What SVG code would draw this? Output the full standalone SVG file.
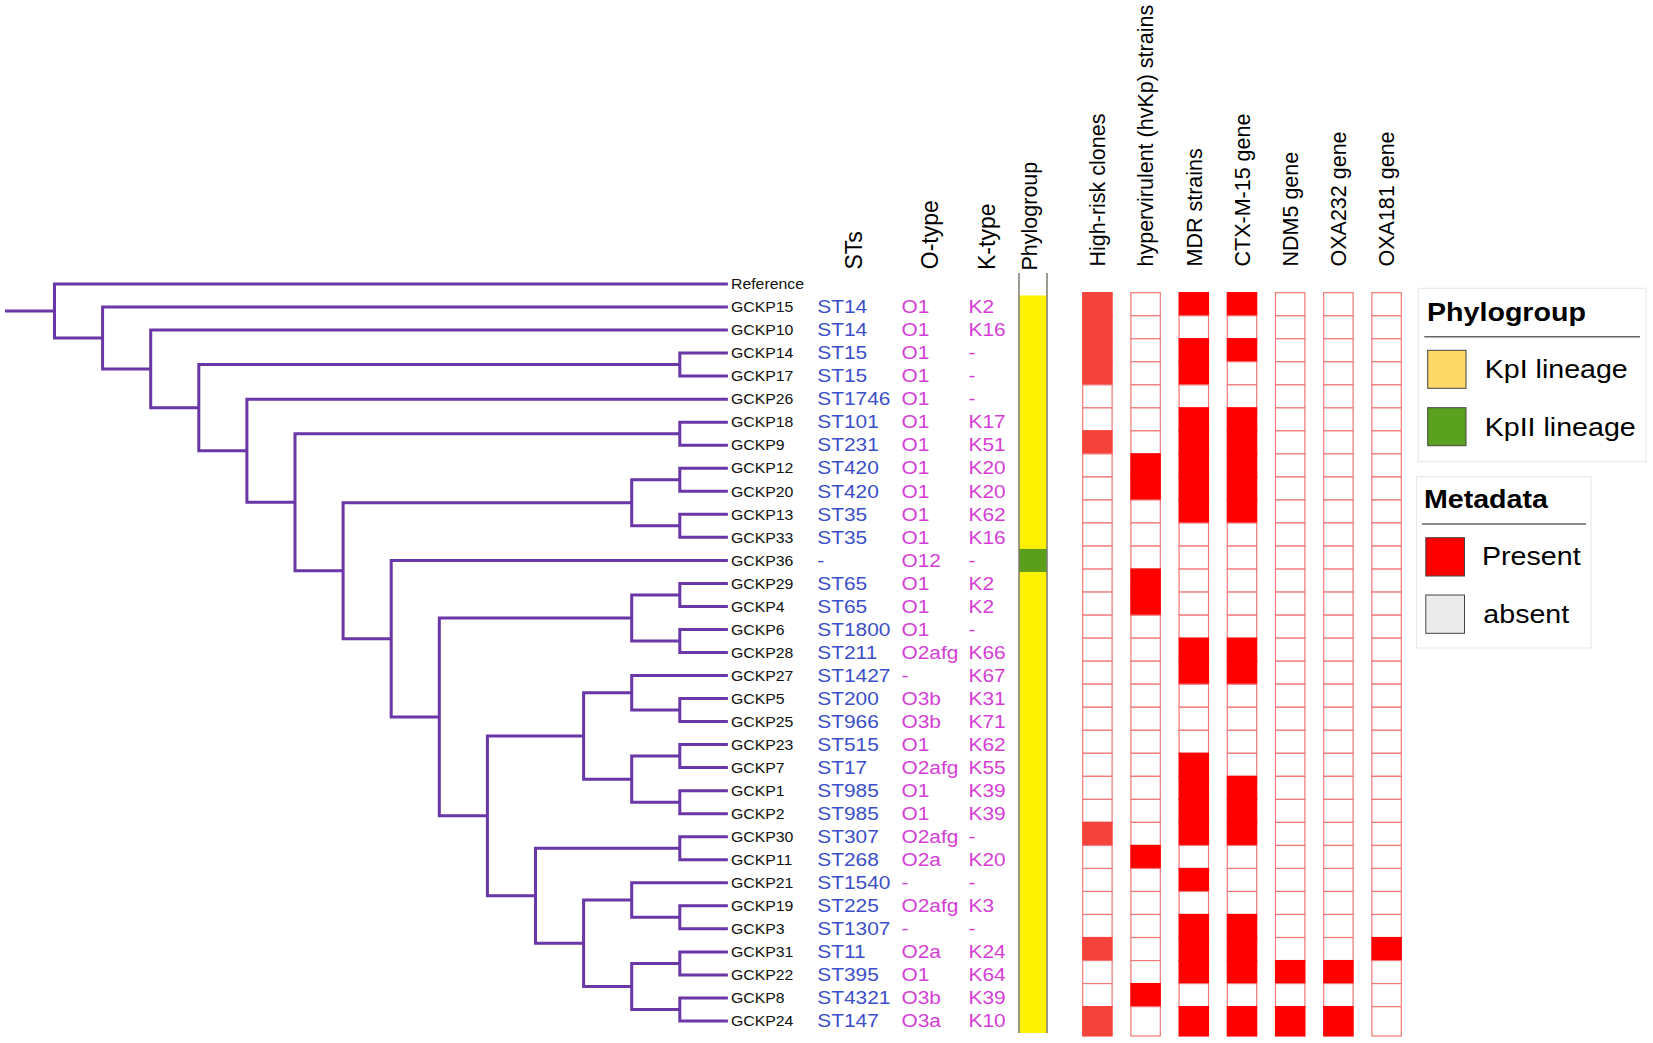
<svg xmlns="http://www.w3.org/2000/svg" xmlns:xlink="http://www.w3.org/1999/xlink" width="1653" height="1043" viewBox="0 0 1653 1043">
<style>
text{font-family:"Liberation Sans",Arial,sans-serif}
.leaf{font-size:14.4px;fill:#111}
.st{font-size:19px;fill:#3b4fc9}
.ok{font-size:19px;fill:#d53ed5}
.hd text{font-size:21.5px;fill:#000}
.hd text.hdl{font-size:23px}
.lg{font-size:26px;fill:#000}
.lgt{font-weight:bold}
.br{fill:none;stroke:#6a36a8;stroke-width:3;stroke-linejoin:miter}
.e{fill:#fff;stroke:#f07878;stroke-width:1.2}
.f{fill:#ff0000;stroke:#ff0000;stroke-width:1.2}
.h{fill:#f4433b;stroke:#f4433b;stroke-width:1.2}
.box{fill:#fff;stroke:#e6e6e6;stroke-width:1}
.sw{stroke:#444;stroke-width:1}
</style>
<defs>
<rect id="c" y="-14.33" width="29.4" height="23.03"/>
<rect id="cL" y="-14.33" width="29.4" height="29.3"/>
</defs>
<rect width="1653" height="1043" fill="#fff"/>

<g id="connectors" class="br">
<path d="M5 311H54.5"/>
<path d="M727.9 284H54.5V337.95H102.6"/>
<path d="M727.9 307H102.6V368.9H150.7"/>
<path d="M727.9 330.1H150.7V407.65H198.8"/>
<path d="M679.8 364.6H198.8V450.7H246.9"/>
<path d="M727.9 399.2H246.9V502.2H295"/>
<path d="M679.8 433.7H295V570.7H343.1"/>
<path d="M631.7 502.8H343.1V638.65H391.2"/>
<path d="M727.9 560.4H391.2V716.9H439.3"/>
<path d="M631.7 617.95H439.3V815.85H487.4"/>
<path d="M583.6 735.97H487.4V895.7H535.5"/>
<path d="M679.8 848.25H535.5V943.2H583.6"/>
<path d="M631.7 692.8H583.6V779.15H631.7"/>
<path d="M631.7 900.05H583.6V986.4H631.7"/>
<path d="M679.8 479.75H631.7V525.8H679.8"/>
<path d="M679.8 594.9H631.7V641H679.8"/>
<path d="M727.9 675.5H631.7V710.05H679.8"/>
<path d="M679.8 756.1H631.7V802.2H679.8"/>
<path d="M727.9 882.8H631.7V917.3H679.8"/>
<path d="M679.8 963.4H631.7V1009.45H679.8"/>
<path d="M727.9 353.1H679.8V376.1H727.9"/>
<path d="M727.9 422.2H679.8V445.2H727.9"/>
<path d="M727.9 468.2H679.8V491.3H727.9"/>
<path d="M727.9 514.3H679.8V537.3H727.9"/>
<path d="M727.9 583.4H679.8V606.4H727.9"/>
<path d="M727.9 629.5H679.8V652.5H727.9"/>
<path d="M727.9 698.5H679.8V721.6H727.9"/>
<path d="M727.9 744.6H679.8V767.6H727.9"/>
<path d="M727.9 790.7H679.8V813.7H727.9"/>
<path d="M727.9 836.7H679.8V859.8H727.9"/>
<path d="M727.9 905.8H679.8V928.8H727.9"/>
<path d="M727.9 951.9H679.8V974.9H727.9"/>
<path d="M727.9 997.9H679.8V1021H727.9"/>
</g>

<g id="headers" class="hd">
<text class="hdl" transform="translate(861.7 269.5) rotate(-90)">STs</text>
<text class="hdl" transform="translate(937.7 269.2) rotate(-90)">O-type</text>
<text class="hdl" transform="translate(995 270) rotate(-90)">K-type</text>
<text transform="translate(1037 270.5) rotate(-90)">Phylogroup</text>
<text transform="translate(1105.1 266.5) rotate(-90)">High-risk clones</text>
<text transform="translate(1153.3 266.5) rotate(-90)">hypervirulent (hvKp) strains</text>
<text transform="translate(1201.5 266.5) rotate(-90)">MDR strains</text>
<text transform="translate(1249.7 266.5) rotate(-90)">CTX-M-15 gene</text>
<text transform="translate(1297.9 266.5) rotate(-90)">NDM5 gene</text>
<text transform="translate(1346.1 266.5) rotate(-90)">OXA232 gene</text>
<text transform="translate(1394.3 266.5) rotate(-90)">OXA181 gene</text>
</g>

<g id="phylogroup-column">
<rect x="1019" y="295.5" width="28" height="737.5" fill="#fff200"/>
<rect x="1019" y="548.9" width="28" height="23.03" fill="#5a9e1c"/>
<line x1="1019" y1="273" x2="1019" y2="1033" stroke="#7a7a70" stroke-width="1.5"/>
<line x1="1047" y1="273" x2="1047" y2="1033" stroke="#7a7a70" stroke-width="1.5"/>
</g>

<g id="Reference" transform="translate(0 284)"><g transform="scale(1.1 1)"><text class="leaf" x="664.5" y="5.2">Reference</text></g></g>

<g id="GCKP15" transform="translate(0 307)"><g transform="scale(1.1 1)"><text class="leaf" x="664.5" y="5.2">GCKP15</text><text class="st" x="743" y="6.2">ST14</text><text class="ok" x="819.5" y="6.2">O1</text><text class="ok" x="880.5" y="6.2">K2</text></g>
<use href="#c" x="1082.7" class="h"/><use href="#c" x="1130.9" class="e"/><use href="#c" x="1179.1" class="f"/><use href="#c" x="1227.3" class="f"/><use href="#c" x="1275.5" class="e"/><use href="#c" x="1323.7" class="e"/><use href="#c" x="1371.9" class="e"/></g>

<g id="GCKP10" transform="translate(0 330.1)"><g transform="scale(1.1 1)"><text class="leaf" x="664.5" y="5.2">GCKP10</text><text class="st" x="743" y="6.2">ST14</text><text class="ok" x="819.5" y="6.2">O1</text><text class="ok" x="880.5" y="6.2">K16</text></g>
<use href="#c" x="1082.7" class="h"/><use href="#c" x="1130.9" class="e"/><use href="#c" x="1179.1" class="e"/><use href="#c" x="1227.3" class="e"/><use href="#c" x="1275.5" class="e"/><use href="#c" x="1323.7" class="e"/><use href="#c" x="1371.9" class="e"/></g>

<g id="GCKP14" transform="translate(0 353.1)"><g transform="scale(1.1 1)"><text class="leaf" x="664.5" y="5.2">GCKP14</text><text class="st" x="743" y="6.2">ST15</text><text class="ok" x="819.5" y="6.2">O1</text><text class="ok" x="880.5" y="6.2">-</text></g>
<use href="#c" x="1082.7" class="h"/><use href="#c" x="1130.9" class="e"/><use href="#c" x="1179.1" class="f"/><use href="#c" x="1227.3" class="f"/><use href="#c" x="1275.5" class="e"/><use href="#c" x="1323.7" class="e"/><use href="#c" x="1371.9" class="e"/></g>

<g id="GCKP17" transform="translate(0 376.1)"><g transform="scale(1.1 1)"><text class="leaf" x="664.5" y="5.2">GCKP17</text><text class="st" x="743" y="6.2">ST15</text><text class="ok" x="819.5" y="6.2">O1</text><text class="ok" x="880.5" y="6.2">-</text></g>
<use href="#c" x="1082.7" class="h"/><use href="#c" x="1130.9" class="e"/><use href="#c" x="1179.1" class="f"/><use href="#c" x="1227.3" class="e"/><use href="#c" x="1275.5" class="e"/><use href="#c" x="1323.7" class="e"/><use href="#c" x="1371.9" class="e"/></g>

<g id="GCKP26" transform="translate(0 399.2)"><g transform="scale(1.1 1)"><text class="leaf" x="664.5" y="5.2">GCKP26</text><text class="st" x="743" y="6.2">ST1746</text><text class="ok" x="819.5" y="6.2">O1</text><text class="ok" x="880.5" y="6.2">-</text></g>
<use href="#c" x="1082.7" class="e"/><use href="#c" x="1130.9" class="e"/><use href="#c" x="1179.1" class="e"/><use href="#c" x="1227.3" class="e"/><use href="#c" x="1275.5" class="e"/><use href="#c" x="1323.7" class="e"/><use href="#c" x="1371.9" class="e"/></g>

<g id="GCKP18" transform="translate(0 422.2)"><g transform="scale(1.1 1)"><text class="leaf" x="664.5" y="5.2">GCKP18</text><text class="st" x="743" y="6.2">ST101</text><text class="ok" x="819.5" y="6.2">O1</text><text class="ok" x="880.5" y="6.2">K17</text></g>
<use href="#c" x="1082.7" class="e"/><use href="#c" x="1130.9" class="e"/><use href="#c" x="1179.1" class="f"/><use href="#c" x="1227.3" class="f"/><use href="#c" x="1275.5" class="e"/><use href="#c" x="1323.7" class="e"/><use href="#c" x="1371.9" class="e"/></g>

<g id="GCKP9" transform="translate(0 445.2)"><g transform="scale(1.1 1)"><text class="leaf" x="664.5" y="5.2">GCKP9</text><text class="st" x="743" y="6.2">ST231</text><text class="ok" x="819.5" y="6.2">O1</text><text class="ok" x="880.5" y="6.2">K51</text></g>
<use href="#c" x="1082.7" class="h"/><use href="#c" x="1130.9" class="e"/><use href="#c" x="1179.1" class="f"/><use href="#c" x="1227.3" class="f"/><use href="#c" x="1275.5" class="e"/><use href="#c" x="1323.7" class="e"/><use href="#c" x="1371.9" class="e"/></g>

<g id="GCKP12" transform="translate(0 468.2)"><g transform="scale(1.1 1)"><text class="leaf" x="664.5" y="5.2">GCKP12</text><text class="st" x="743" y="6.2">ST420</text><text class="ok" x="819.5" y="6.2">O1</text><text class="ok" x="880.5" y="6.2">K20</text></g>
<use href="#c" x="1082.7" class="e"/><use href="#c" x="1130.9" class="f"/><use href="#c" x="1179.1" class="f"/><use href="#c" x="1227.3" class="f"/><use href="#c" x="1275.5" class="e"/><use href="#c" x="1323.7" class="e"/><use href="#c" x="1371.9" class="e"/></g>

<g id="GCKP20" transform="translate(0 491.3)"><g transform="scale(1.1 1)"><text class="leaf" x="664.5" y="5.2">GCKP20</text><text class="st" x="743" y="6.2">ST420</text><text class="ok" x="819.5" y="6.2">O1</text><text class="ok" x="880.5" y="6.2">K20</text></g>
<use href="#c" x="1082.7" class="e"/><use href="#c" x="1130.9" class="f"/><use href="#c" x="1179.1" class="f"/><use href="#c" x="1227.3" class="f"/><use href="#c" x="1275.5" class="e"/><use href="#c" x="1323.7" class="e"/><use href="#c" x="1371.9" class="e"/></g>

<g id="GCKP13" transform="translate(0 514.3)"><g transform="scale(1.1 1)"><text class="leaf" x="664.5" y="5.2">GCKP13</text><text class="st" x="743" y="6.2">ST35</text><text class="ok" x="819.5" y="6.2">O1</text><text class="ok" x="880.5" y="6.2">K62</text></g>
<use href="#c" x="1082.7" class="e"/><use href="#c" x="1130.9" class="e"/><use href="#c" x="1179.1" class="f"/><use href="#c" x="1227.3" class="f"/><use href="#c" x="1275.5" class="e"/><use href="#c" x="1323.7" class="e"/><use href="#c" x="1371.9" class="e"/></g>

<g id="GCKP33" transform="translate(0 537.3)"><g transform="scale(1.1 1)"><text class="leaf" x="664.5" y="5.2">GCKP33</text><text class="st" x="743" y="6.2">ST35</text><text class="ok" x="819.5" y="6.2">O1</text><text class="ok" x="880.5" y="6.2">K16</text></g>
<use href="#c" x="1082.7" class="e"/><use href="#c" x="1130.9" class="e"/><use href="#c" x="1179.1" class="e"/><use href="#c" x="1227.3" class="e"/><use href="#c" x="1275.5" class="e"/><use href="#c" x="1323.7" class="e"/><use href="#c" x="1371.9" class="e"/></g>

<g id="GCKP36" transform="translate(0 560.4)"><g transform="scale(1.1 1)"><text class="leaf" x="664.5" y="5.2">GCKP36</text><text class="st" x="743" y="6.2">-</text><text class="ok" x="819.5" y="6.2">O12</text><text class="ok" x="880.5" y="6.2">-</text></g>
<use href="#c" x="1082.7" class="e"/><use href="#c" x="1130.9" class="e"/><use href="#c" x="1179.1" class="e"/><use href="#c" x="1227.3" class="e"/><use href="#c" x="1275.5" class="e"/><use href="#c" x="1323.7" class="e"/><use href="#c" x="1371.9" class="e"/></g>

<g id="GCKP29" transform="translate(0 583.4)"><g transform="scale(1.1 1)"><text class="leaf" x="664.5" y="5.2">GCKP29</text><text class="st" x="743" y="6.2">ST65</text><text class="ok" x="819.5" y="6.2">O1</text><text class="ok" x="880.5" y="6.2">K2</text></g>
<use href="#c" x="1082.7" class="e"/><use href="#c" x="1130.9" class="f"/><use href="#c" x="1179.1" class="e"/><use href="#c" x="1227.3" class="e"/><use href="#c" x="1275.5" class="e"/><use href="#c" x="1323.7" class="e"/><use href="#c" x="1371.9" class="e"/></g>

<g id="GCKP4" transform="translate(0 606.4)"><g transform="scale(1.1 1)"><text class="leaf" x="664.5" y="5.2">GCKP4</text><text class="st" x="743" y="6.2">ST65</text><text class="ok" x="819.5" y="6.2">O1</text><text class="ok" x="880.5" y="6.2">K2</text></g>
<use href="#c" x="1082.7" class="e"/><use href="#c" x="1130.9" class="f"/><use href="#c" x="1179.1" class="e"/><use href="#c" x="1227.3" class="e"/><use href="#c" x="1275.5" class="e"/><use href="#c" x="1323.7" class="e"/><use href="#c" x="1371.9" class="e"/></g>

<g id="GCKP6" transform="translate(0 629.5)"><g transform="scale(1.1 1)"><text class="leaf" x="664.5" y="5.2">GCKP6</text><text class="st" x="743" y="6.2">ST1800</text><text class="ok" x="819.5" y="6.2">O1</text><text class="ok" x="880.5" y="6.2">-</text></g>
<use href="#c" x="1082.7" class="e"/><use href="#c" x="1130.9" class="e"/><use href="#c" x="1179.1" class="e"/><use href="#c" x="1227.3" class="e"/><use href="#c" x="1275.5" class="e"/><use href="#c" x="1323.7" class="e"/><use href="#c" x="1371.9" class="e"/></g>

<g id="GCKP28" transform="translate(0 652.5)"><g transform="scale(1.1 1)"><text class="leaf" x="664.5" y="5.2">GCKP28</text><text class="st" x="743" y="6.2">ST211</text><text class="ok" x="819.5" y="6.2">O2afg</text><text class="ok" x="880.5" y="6.2">K66</text></g>
<use href="#c" x="1082.7" class="e"/><use href="#c" x="1130.9" class="e"/><use href="#c" x="1179.1" class="f"/><use href="#c" x="1227.3" class="f"/><use href="#c" x="1275.5" class="e"/><use href="#c" x="1323.7" class="e"/><use href="#c" x="1371.9" class="e"/></g>

<g id="GCKP27" transform="translate(0 675.5)"><g transform="scale(1.1 1)"><text class="leaf" x="664.5" y="5.2">GCKP27</text><text class="st" x="743" y="6.2">ST1427</text><text class="ok" x="819.5" y="6.2">-</text><text class="ok" x="880.5" y="6.2">K67</text></g>
<use href="#c" x="1082.7" class="e"/><use href="#c" x="1130.9" class="e"/><use href="#c" x="1179.1" class="f"/><use href="#c" x="1227.3" class="f"/><use href="#c" x="1275.5" class="e"/><use href="#c" x="1323.7" class="e"/><use href="#c" x="1371.9" class="e"/></g>

<g id="GCKP5" transform="translate(0 698.5)"><g transform="scale(1.1 1)"><text class="leaf" x="664.5" y="5.2">GCKP5</text><text class="st" x="743" y="6.2">ST200</text><text class="ok" x="819.5" y="6.2">O3b</text><text class="ok" x="880.5" y="6.2">K31</text></g>
<use href="#c" x="1082.7" class="e"/><use href="#c" x="1130.9" class="e"/><use href="#c" x="1179.1" class="e"/><use href="#c" x="1227.3" class="e"/><use href="#c" x="1275.5" class="e"/><use href="#c" x="1323.7" class="e"/><use href="#c" x="1371.9" class="e"/></g>

<g id="GCKP25" transform="translate(0 721.6)"><g transform="scale(1.1 1)"><text class="leaf" x="664.5" y="5.2">GCKP25</text><text class="st" x="743" y="6.2">ST966</text><text class="ok" x="819.5" y="6.2">O3b</text><text class="ok" x="880.5" y="6.2">K71</text></g>
<use href="#c" x="1082.7" class="e"/><use href="#c" x="1130.9" class="e"/><use href="#c" x="1179.1" class="e"/><use href="#c" x="1227.3" class="e"/><use href="#c" x="1275.5" class="e"/><use href="#c" x="1323.7" class="e"/><use href="#c" x="1371.9" class="e"/></g>

<g id="GCKP23" transform="translate(0 744.6)"><g transform="scale(1.1 1)"><text class="leaf" x="664.5" y="5.2">GCKP23</text><text class="st" x="743" y="6.2">ST515</text><text class="ok" x="819.5" y="6.2">O1</text><text class="ok" x="880.5" y="6.2">K62</text></g>
<use href="#c" x="1082.7" class="e"/><use href="#c" x="1130.9" class="e"/><use href="#c" x="1179.1" class="e"/><use href="#c" x="1227.3" class="e"/><use href="#c" x="1275.5" class="e"/><use href="#c" x="1323.7" class="e"/><use href="#c" x="1371.9" class="e"/></g>

<g id="GCKP7" transform="translate(0 767.6)"><g transform="scale(1.1 1)"><text class="leaf" x="664.5" y="5.2">GCKP7</text><text class="st" x="743" y="6.2">ST17</text><text class="ok" x="819.5" y="6.2">O2afg</text><text class="ok" x="880.5" y="6.2">K55</text></g>
<use href="#c" x="1082.7" class="e"/><use href="#c" x="1130.9" class="e"/><use href="#c" x="1179.1" class="f"/><use href="#c" x="1227.3" class="e"/><use href="#c" x="1275.5" class="e"/><use href="#c" x="1323.7" class="e"/><use href="#c" x="1371.9" class="e"/></g>

<g id="GCKP1" transform="translate(0 790.7)"><g transform="scale(1.1 1)"><text class="leaf" x="664.5" y="5.2">GCKP1</text><text class="st" x="743" y="6.2">ST985</text><text class="ok" x="819.5" y="6.2">O1</text><text class="ok" x="880.5" y="6.2">K39</text></g>
<use href="#c" x="1082.7" class="e"/><use href="#c" x="1130.9" class="e"/><use href="#c" x="1179.1" class="f"/><use href="#c" x="1227.3" class="f"/><use href="#c" x="1275.5" class="e"/><use href="#c" x="1323.7" class="e"/><use href="#c" x="1371.9" class="e"/></g>

<g id="GCKP2" transform="translate(0 813.7)"><g transform="scale(1.1 1)"><text class="leaf" x="664.5" y="5.2">GCKP2</text><text class="st" x="743" y="6.2">ST985</text><text class="ok" x="819.5" y="6.2">O1</text><text class="ok" x="880.5" y="6.2">K39</text></g>
<use href="#c" x="1082.7" class="e"/><use href="#c" x="1130.9" class="e"/><use href="#c" x="1179.1" class="f"/><use href="#c" x="1227.3" class="f"/><use href="#c" x="1275.5" class="e"/><use href="#c" x="1323.7" class="e"/><use href="#c" x="1371.9" class="e"/></g>

<g id="GCKP30" transform="translate(0 836.7)"><g transform="scale(1.1 1)"><text class="leaf" x="664.5" y="5.2">GCKP30</text><text class="st" x="743" y="6.2">ST307</text><text class="ok" x="819.5" y="6.2">O2afg</text><text class="ok" x="880.5" y="6.2">-</text></g>
<use href="#c" x="1082.7" class="h"/><use href="#c" x="1130.9" class="e"/><use href="#c" x="1179.1" class="f"/><use href="#c" x="1227.3" class="f"/><use href="#c" x="1275.5" class="e"/><use href="#c" x="1323.7" class="e"/><use href="#c" x="1371.9" class="e"/></g>

<g id="GCKP11" transform="translate(0 859.8)"><g transform="scale(1.1 1)"><text class="leaf" x="664.5" y="5.2">GCKP11</text><text class="st" x="743" y="6.2">ST268</text><text class="ok" x="819.5" y="6.2">O2a</text><text class="ok" x="880.5" y="6.2">K20</text></g>
<use href="#c" x="1082.7" class="e"/><use href="#c" x="1130.9" class="f"/><use href="#c" x="1179.1" class="e"/><use href="#c" x="1227.3" class="e"/><use href="#c" x="1275.5" class="e"/><use href="#c" x="1323.7" class="e"/><use href="#c" x="1371.9" class="e"/></g>

<g id="GCKP21" transform="translate(0 882.8)"><g transform="scale(1.1 1)"><text class="leaf" x="664.5" y="5.2">GCKP21</text><text class="st" x="743" y="6.2">ST1540</text><text class="ok" x="819.5" y="6.2">-</text><text class="ok" x="880.5" y="6.2">-</text></g>
<use href="#c" x="1082.7" class="e"/><use href="#c" x="1130.9" class="e"/><use href="#c" x="1179.1" class="f"/><use href="#c" x="1227.3" class="e"/><use href="#c" x="1275.5" class="e"/><use href="#c" x="1323.7" class="e"/><use href="#c" x="1371.9" class="e"/></g>

<g id="GCKP19" transform="translate(0 905.8)"><g transform="scale(1.1 1)"><text class="leaf" x="664.5" y="5.2">GCKP19</text><text class="st" x="743" y="6.2">ST225</text><text class="ok" x="819.5" y="6.2">O2afg</text><text class="ok" x="880.5" y="6.2">K3</text></g>
<use href="#c" x="1082.7" class="e"/><use href="#c" x="1130.9" class="e"/><use href="#c" x="1179.1" class="e"/><use href="#c" x="1227.3" class="e"/><use href="#c" x="1275.5" class="e"/><use href="#c" x="1323.7" class="e"/><use href="#c" x="1371.9" class="e"/></g>

<g id="GCKP3" transform="translate(0 928.8)"><g transform="scale(1.1 1)"><text class="leaf" x="664.5" y="5.2">GCKP3</text><text class="st" x="743" y="6.2">ST1307</text><text class="ok" x="819.5" y="6.2">-</text><text class="ok" x="880.5" y="6.2">-</text></g>
<use href="#c" x="1082.7" class="e"/><use href="#c" x="1130.9" class="e"/><use href="#c" x="1179.1" class="f"/><use href="#c" x="1227.3" class="f"/><use href="#c" x="1275.5" class="e"/><use href="#c" x="1323.7" class="e"/><use href="#c" x="1371.9" class="e"/></g>

<g id="GCKP31" transform="translate(0 951.9)"><g transform="scale(1.1 1)"><text class="leaf" x="664.5" y="5.2">GCKP31</text><text class="st" x="743" y="6.2">ST11</text><text class="ok" x="819.5" y="6.2">O2a</text><text class="ok" x="880.5" y="6.2">K24</text></g>
<use href="#c" x="1082.7" class="h"/><use href="#c" x="1130.9" class="e"/><use href="#c" x="1179.1" class="f"/><use href="#c" x="1227.3" class="f"/><use href="#c" x="1275.5" class="e"/><use href="#c" x="1323.7" class="e"/><use href="#c" x="1371.9" class="f"/></g>

<g id="GCKP22" transform="translate(0 974.9)"><g transform="scale(1.1 1)"><text class="leaf" x="664.5" y="5.2">GCKP22</text><text class="st" x="743" y="6.2">ST395</text><text class="ok" x="819.5" y="6.2">O1</text><text class="ok" x="880.5" y="6.2">K64</text></g>
<use href="#c" x="1082.7" class="e"/><use href="#c" x="1130.9" class="e"/><use href="#c" x="1179.1" class="f"/><use href="#c" x="1227.3" class="f"/><use href="#c" x="1275.5" class="f"/><use href="#c" x="1323.7" class="f"/><use href="#c" x="1371.9" class="e"/></g>

<g id="GCKP8" transform="translate(0 997.9)"><g transform="scale(1.1 1)"><text class="leaf" x="664.5" y="5.2">GCKP8</text><text class="st" x="743" y="6.2">ST4321</text><text class="ok" x="819.5" y="6.2">O3b</text><text class="ok" x="880.5" y="6.2">K39</text></g>
<use href="#c" x="1082.7" class="e"/><use href="#c" x="1130.9" class="f"/><use href="#c" x="1179.1" class="e"/><use href="#c" x="1227.3" class="e"/><use href="#c" x="1275.5" class="e"/><use href="#c" x="1323.7" class="e"/><use href="#c" x="1371.9" class="e"/></g>

<g id="GCKP24" transform="translate(0 1021)"><g transform="scale(1.1 1)"><text class="leaf" x="664.5" y="5.2">GCKP24</text><text class="st" x="743" y="6.2">ST147</text><text class="ok" x="819.5" y="6.2">O3a</text><text class="ok" x="880.5" y="6.2">K10</text></g>
<use href="#cL" x="1082.7" class="h"/><use href="#cL" x="1130.9" class="e"/><use href="#cL" x="1179.1" class="f"/><use href="#cL" x="1227.3" class="f"/><use href="#cL" x="1275.5" class="f"/><use href="#cL" x="1323.7" class="f"/><use href="#cL" x="1371.9" class="e"/></g>

<g id="legend-phylogroup">
<rect class="box" x="1418.3" y="288.3" width="227.7" height="173.4"/>
<g transform="scale(1.1 1)">
<text class="lg lgt" x="1297.3" y="320.7">Phylogroup</text>
<text class="lg" x="1349.7" y="378.3">KpI lineage</text>
<text class="lg" x="1349.7" y="436.3">KpII lineage</text>
</g>
<line x1="1424.3" y1="336.7" x2="1640" y2="336.7" stroke="#666" stroke-width="1.5"/>
<rect class="sw" x="1427.7" y="350.3" width="38.3" height="38" fill="#ffd966"/>
<rect class="sw" x="1427.7" y="407.7" width="38.3" height="38" fill="#5aa21e"/>
</g>

<g id="legend-metadata">
<rect class="box" x="1416.6" y="476.7" width="174.4" height="171.3"/>
<g transform="scale(1.1 1)">
<text class="lg lgt" x="1294.5" y="508.5">Metadata</text>
<text class="lg" x="1347.3" y="565">Present</text>
<text class="lg" x="1348.5" y="622.7">absent</text>
</g>
<line x1="1422" y1="524" x2="1586" y2="524" stroke="#666" stroke-width="1.5"/>
<rect class="sw" x="1425.8" y="537.7" width="38.7" height="38.3" fill="#ff0000"/>
<rect class="sw" x="1425.8" y="595" width="38.7" height="38.3" fill="#ebebeb"/>
</g>
</svg>
